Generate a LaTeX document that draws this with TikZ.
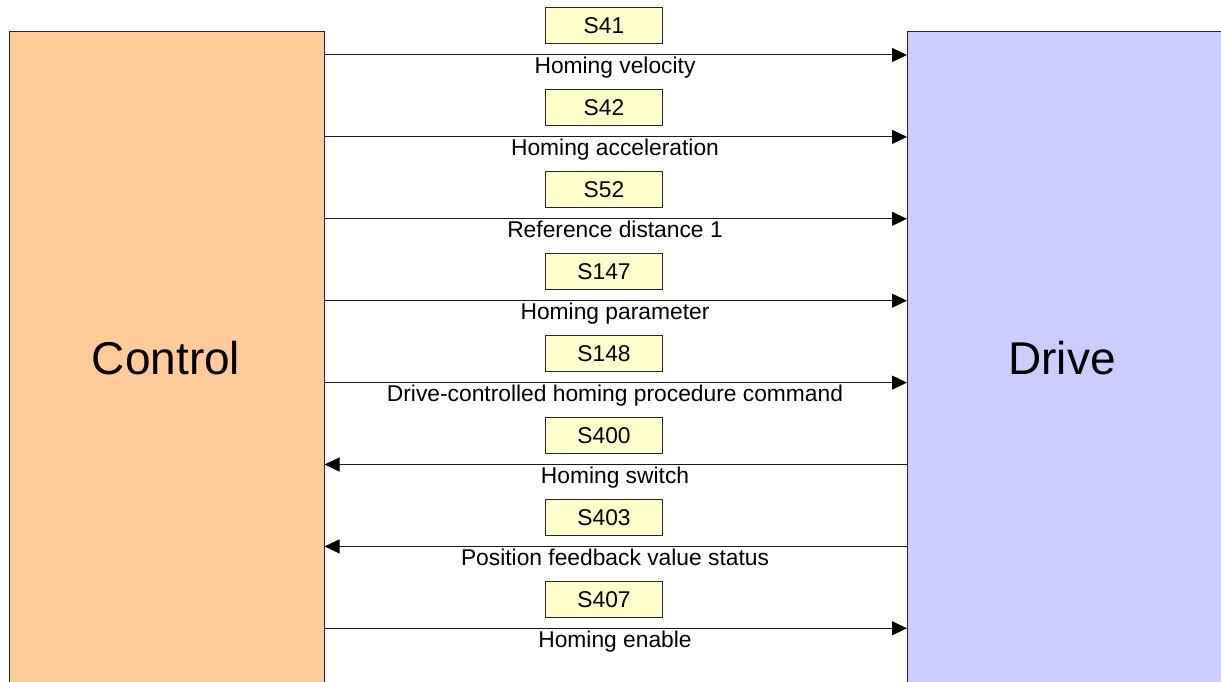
\documentclass[tikz,border=0pt]{standalone}
\usepackage{fontspec}
\setmainfont{Liberation Sans}
\usetikzlibrary{arrows.meta}
\definecolor{ctrlfill}{HTML}{FFCC99}
\definecolor{drvfill}{HTML}{CCCCFF}
\definecolor{tagfill}{HTML}{FFFFCC}
\begin{document}
\begin{tikzpicture}[x=1pt,y=-1pt,
  block/.style={draw=black!85, line width=1pt, inner sep=0pt, anchor=north west},
  tag/.style={draw=black!85, line width=1pt, fill=tagfill, minimum width=117pt,
    minimum height=36pt, inner sep=0pt, font=\fontsize{22.8}{23}\selectfont},
  caption/.style={anchor=base, inner sep=0pt, font=\fontsize{22.8}{23}\selectfont},
  link/.style={draw=black!90, line width=1pt, -{Triangle[length=15pt,width=14pt,color=black,fill=black]}},
  big/.style={inner sep=0pt, font=\fontsize{46}{46}\selectfont}]
\useasboundingbox (0,0) rectangle (1221,682);
\clip (0,0) rectangle (1221,682);

% the two communicating parties
\node[block, fill=ctrlfill, minimum width=315pt, minimum height=655pt] (ctrl) at (8.5,31.5) {};
\node[block, fill=drvfill, minimum width=330pt, minimum height=655pt] (drv) at (907,31.5) {};
\node[big] (ctrllbl) at (166,358.5) {Control};
\node[big] (drvlbl) at (1062,358.5) {Drive};

% parameter exchange: ident number, name, direction
\foreach \code/\txt/\dir [count=\i from 0] in {
    S41/Homing velocity/r,
    S42/Homing acceleration/r,
    S52/Reference distance 1/r,
    S147/Homing parameter/r,
    S148/Drive-controlled homing procedure command/r,
    S400/Homing switch/l,
    S403/Position feedback value status/l,
    S407/Homing enable/r} {
  \pgfmathsetmacro\yy{55+81.9*\i}
  \node[tag] (tag\i) at (604,\yy-29) {\code};
  \node[caption] (cap\i) at (615,\yy+19) {\txt};
  \if r\dir
    \draw[link] (ctrl.east |- 0,\yy) -- (drv.west |- 0,\yy);
  \else
    \draw[link] (drv.west |- 0,\yy) -- (ctrl.east |- 0,\yy);
  \fi
}
\end{tikzpicture}
\end{document}
